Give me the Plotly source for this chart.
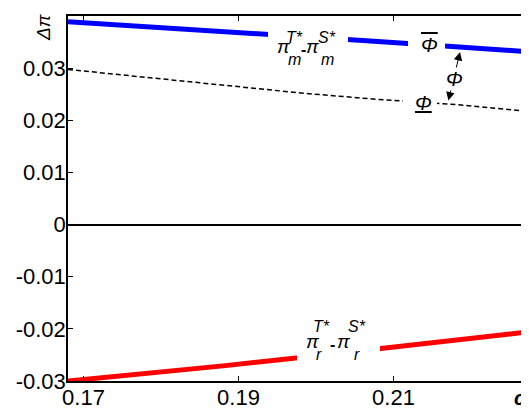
import plotly.graph_objects as go

# ---- data ----
c_r = [0.168, 0.178, 0.188, 0.198, 0.208, 0.218, 0.228]
dpi_m = [0.03892, 0.03801, 0.03711, 0.03610, 0.03510, 0.03410, 0.03310]   # pi_m^T* - pi_m^S*
phi_lower = [0.02975, 0.02821, 0.02677, 0.02524, 0.02399, 0.02303, 0.02160]  # dashed (Phi lower)
dpi_r = [-0.0300, -0.0286, -0.0271, -0.0255, -0.0239, -0.0222, -0.0205]   # pi_r^T* - pi_r^S*

x_ticks = [0.17, 0.19, 0.21]
x_tick_labels = ["0.17", "0.19", "0.21"]
y_ticks = [-0.03, -0.02, -0.01, 0, 0.01, 0.02, 0.03]
y_tick_labels = ["-0.03", "-0.02", "-0.01", "0", "0.01", "0.02", "0.03"]

FONT = "Liberation Sans, Arial, sans-serif"
X_RANGE = [0.168, 0.22748]
Y_RANGE = [-0.03, 0.04]
# plot area size in px (for converting label box sizes)
PW, PH = 461, 365
XPX = (X_RANGE[1] - X_RANGE[0]) / PW
YPX = (Y_RANGE[1] - Y_RANGE[0]) / PH

fig = go.Figure()
fig.add_trace(go.Scatter(x=c_r, y=dpi_m, mode="lines",
                         line=dict(color="#0000FF", width=5), showlegend=False))
fig.add_trace(go.Scatter(x=c_r, y=phi_lower, mode="lines",
                         line=dict(color="black", width=1.5, dash="5px,3px"), showlegend=False))
fig.add_trace(go.Scatter(x=c_r, y=dpi_r, mode="lines",
                         line=dict(color="#FF0000", width=5), showlegend=False))

ann = []
shapes = []

def box(x, y, w, h):
    shapes.append(dict(type="rect", xref="x", yref="y",
                       x0=x - w * XPX / 2, x1=x + w * XPX / 2,
                       y0=y - h * YPX / 2, y1=y + h * YPX / 2,
                       fillcolor="white", line=dict(width=0), layer="above"))

def txt(x, y, s, size=17, xref="x", yref="y", **kw):
    d = dict(x=x, y=y, xref=xref, yref=yref, text=s, showarrow=False,
             xanchor="center", yanchor="middle",
             font=dict(family=FONT, size=size, color="black"))
    d.update(kw)
    ann.append(d)

# white backgrounds behind labels
box(0.19897, 0.03405, 80, 38)
box(0.2029, -0.02214, 83, 44)
box(0.21426, 0.03501, 37, 28)
box(0.21342, 0.02293, 34, 26)

# double-headed arrow (Phi)
ann.append(dict(x=0.21858, y=0.0331, ax=0.21703, ay=0.02351, xref="x", yref="y",
                axref="x", ayref="y", text="", showarrow=True, arrowside="end+start",
                arrowhead=2, startarrowhead=2, arrowsize=1.7, startarrowsize=1.7,
                arrowwidth=1, arrowcolor="black", standoff=0, startstandoff=0))

# pi_m label
txt(0.19587, 0.03411, "<i>π</i>", 19)
txt(0.19723, 0.03597, "<i>T*</i>", 16)
txt(0.19716, 0.03175, "<i>m</i>", 16)
txt(0.19839, 0.03367, "<b>-</b>", 16)
txt(0.19955, 0.03411, "<i>π</i>", 19)
txt(0.20148, 0.03597, "<i>S*</i>", 16)
txt(0.20148, 0.03175, "<i>m</i>", 16)

# pi_r label
txt(0.19955, -0.022424, "<i>π</i>", 19)
txt(0.20077, -0.019452, "<i>T*</i>", 16)
txt(0.20032, -0.024822, "<i>r</i>", 16)
txt(0.20219, -0.022904, "<b>-</b>", 16)
txt(0.20361, -0.022424, "<i>π</i>", 19)
txt(0.20535, -0.019452, "<i>S*</i>", 16)
txt(0.20535, -0.024822, "<i>r</i>", 16)

# Phi labels
txt(0.21458, 0.03453, "<span style='text-decoration:overline'><i>Φ</i></span>", 20)
txt(0.21781, 0.02801, "<i>Φ</i>", 20, bgcolor="white", borderpad=0)
txt(0.21381, 0.02341, "<u><i>Φ</i></u>", 20)

# axis labels
txt(-0.0531, 0.9685, "<i>Δπ</i>", 19, xref="paper", yref="paper", textangle=-90)
txt(0.22529, -0.052, "<b><i>c</i></b><sub><b><i>r</i></b></sub>", 20,
    yref="paper", xanchor="left")

# the page body adds an 8px offset; figure is sized so the plot lands where the reference has it
fig.update_layout(
    width=521, height=409,
    margin=dict(l=60, r=0, t=8, b=36, pad=0),
    paper_bgcolor="white", plot_bgcolor="white",
    font=dict(family=FONT, size=22, color="black"),
    showlegend=False,
    annotations=ann,
    shapes=shapes,
    xaxis=dict(range=X_RANGE, tickvals=x_ticks, ticktext=x_tick_labels,
               ticks="inside", ticklen=5, tickwidth=1, tickcolor="black",
               showline=True, linecolor="black", linewidth=1.5, mirror="ticks",
               showgrid=False, zeroline=False, tickfont=dict(size=22),
               ticklabelstandoff=-4),
    yaxis=dict(range=Y_RANGE, tickvals=y_ticks, ticktext=y_tick_labels,
               ticks="inside", ticklen=5, tickwidth=1, tickcolor="black",
               showline=True, linecolor="black", linewidth=1.5, mirror=False,
               showgrid=False, zeroline=True, zerolinecolor="black", zerolinewidth=1.5,
               tickfont=dict(size=22), ticklabelstandoff=-4),
    yaxis2=dict(range=Y_RANGE, tickvals=y_ticks, overlaying="y", side="right",
                anchor="x", ticks="inside", ticklen=3, tickwidth=1, tickcolor="black",
                showticklabels=False, showline=False, showgrid=False, zeroline=False),
)

fig.write_html("out.html")
